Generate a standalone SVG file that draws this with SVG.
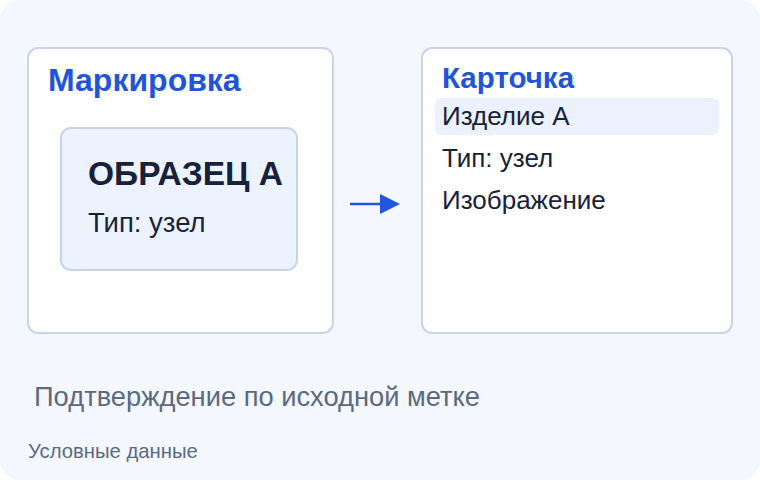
<svg xmlns="http://www.w3.org/2000/svg" width="760" height="480" viewBox="0 0 760 480">
<style>
.panel{fill:#ffffff;stroke:#c9d5e6;stroke-width:2}
.title{font-family:"Liberation Sans",Arial,sans-serif;font-weight:bold;fill:#2155d9}
.t{font-family:"Liberation Sans",Arial,sans-serif;fill:#17223a}
.muted{font-family:"Liberation Sans",Arial,sans-serif;fill:#5b6a80}
</style>
<defs>
<marker id="ah" markerWidth="20" markerHeight="20" refX="0" refY="10" orient="auto" markerUnits="userSpaceOnUse" viewBox="0 0 20 20">
<path d="M0,0 L20,10 L0,20 z" fill="#2155e0"/>
</marker>
</defs>
<rect x="0" y="0" width="760" height="480" rx="20" fill="#f4f7fe"/>
<g id="marking">
<rect class="panel" x="28" y="48" width="305" height="285" rx="10"/>
<text class="title" x="48" y="91" font-size="32">Маркировка</text>
</g>
<g id="sample">
<rect x="61" y="128" width="236" height="142" rx="10" fill="#edf3fe" stroke="#c6d4ea" stroke-width="2"/>
<text class="t" x="88" y="185" font-size="33.5" font-weight="bold">ОБРАЗЕЦ А</text>
<text class="t" x="88" y="232" font-size="27.5">Тип: узел</text>
</g>
<g id="card">
<rect class="panel" x="422" y="48" width="310" height="285" rx="10"/>
<text class="title" x="442" y="88" font-size="29.5">Карточка</text>
<rect x="435" y="98" width="284" height="37" rx="6" fill="#ebf2fe"/>
<text class="t" x="442" y="125" font-size="26">Изделие А</text>
<text class="t" x="442" y="167" font-size="26">Тип: узел</text>
<text class="t" x="442" y="209" font-size="26">Изображение</text>
</g>
<g id="connectors">
<line x1="350" y1="204" x2="380" y2="204" stroke="#2155e0" stroke-width="2.5" marker-end="url(#ah)"/>
</g>
<g id="footer">
<text class="muted" x="34" y="406" font-size="27.3">Подтверждение по исходной метке</text>
<text class="muted" x="28" y="458" font-size="20.3">Условные данные</text>
</g>
</svg>
